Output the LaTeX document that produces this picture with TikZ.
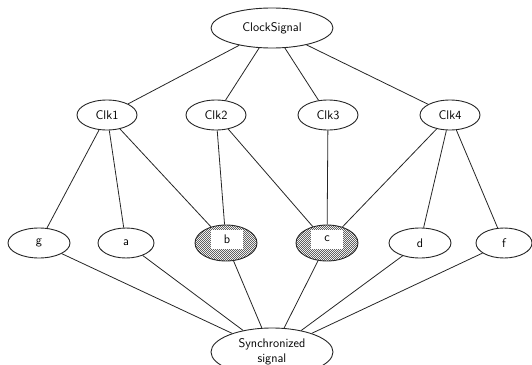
\documentclass[tikz,border=0pt]{standalone}
\usetikzlibrary{shapes.geometric,patterns.meta}
\tikzdeclarepattern{
  name=densehatch,
  type=uncolored,
  bottom left={(0pt,0pt)},
  top right={(2.4pt,2.4pt)},
  tile size={(2.4pt,2.4pt)},
  code={\draw[line width=0.7pt] (-0.6pt,3pt) -- (3pt,-0.6pt);}
}
\begin{document}
\begin{tikzpicture}[x=1pt,y=-1pt,
  nd/.style={ellipse,draw=black!85,line width=0.9pt,inner sep=0pt,minimum width=60pt,minimum height=30pt,font=\sffamily\fontsize{12.5}{15}\selectfont},
  hatch/.style={nd,pattern=densehatch,pattern color=black!75},
  lbl/.style={fill=white,inner sep=0pt,minimum width=32pt,minimum height=19pt,font=\sffamily\fontsize{12.5}{15}\selectfont},
  edge/.style={draw=black!85,line width=0.8pt}]
\useasboundingbox (0,0) rectangle (532,364);
\node[nd,minimum width=122pt,minimum height=40pt] (cs) at (272,28) {ClockSignal};
\node[nd] (c1) at (107,115) {Clk1};
\node[nd] (c2) at (216,115) {Clk2};
\node[nd] (c3) at (328,115) {Clk3};
\node[nd] (c4) at (450,115) {Clk4};
\node[nd,minimum width=62pt] (g) at (39,243) {g};
\node[nd,minimum width=56pt] (a) at (126,243) {a};
\node[hatch,minimum width=62pt,minimum height=36pt] (b) at (226,243) {};
\node[hatch,minimum width=62pt,minimum height=36pt] (c) at (327,243) {};
\node[nd,minimum width=62pt] (d) at (420,243) {d};
\node[nd,minimum width=56pt] (f) at (504,243) {f};
\node[nd,minimum width=122pt,minimum height=48pt,align=center] (s) at (272,352) {Synchronized\\signal};
\foreach \t in {c1,c2,c3,c4} \draw[edge] (cs) -- (\t);
\draw[edge] (c1) -- (g);
\draw[edge] (c1) -- (a);
\draw[edge] (c1) -- (b);
\draw[edge] (c2) -- (b);
\draw[edge] (c2) -- (c);
\draw[edge] (c3) -- (c);
\draw[edge] (c4) -- (c);
\draw[edge] (c4) -- (d);
\draw[edge] (c4) -- (f);
\foreach \t in {g,a,b,c,d,f} \draw[edge] (\t) -- (s);
\node[lbl] (bl) at (227,239) {b};
\node[lbl] (cl) at (327,239) {c};
\end{tikzpicture}
\end{document}
